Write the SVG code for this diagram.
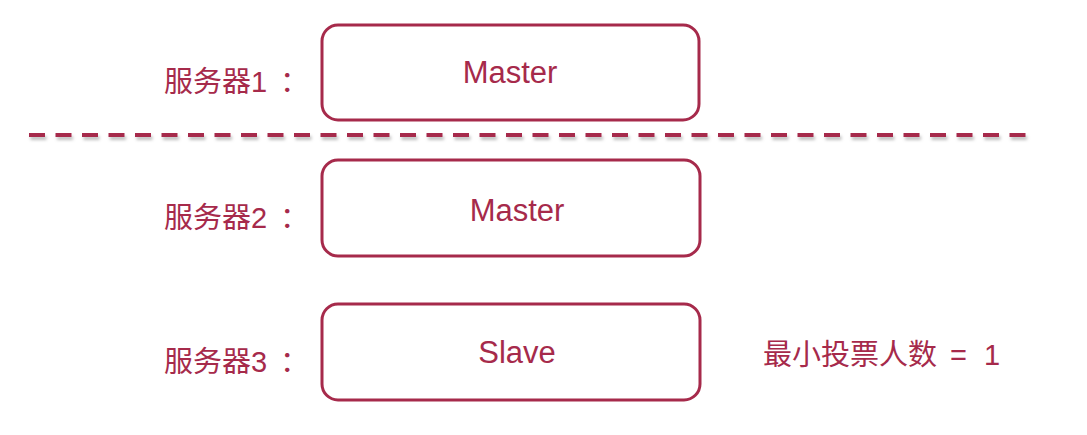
<svg xmlns="http://www.w3.org/2000/svg" width="1087" height="435" viewBox="0 0 1087 435">
<defs>
<filter id="sh" filterUnits="userSpaceOnUse" x="0" y="120" width="1087" height="30">
<feDropShadow dx="1.5" dy="3" stdDeviation="1.5" flood-color="#000" flood-opacity="0.25"/>
</filter>
</defs>
<style>
.box{fill:#fff;stroke:#a62a4b;stroke-width:3}
.lbl{font-family:"Liberation Sans","Noto Sans CJK SC",sans-serif;font-size:29px;fill:#a62a4b}
.nt{font-family:"Liberation Sans","Noto Sans CJK SC",sans-serif;font-size:31px;fill:#a62a4b;text-anchor:middle}
.div{stroke:#a62a4b;stroke-width:4;stroke-dasharray:16 10.5;fill:none}
</style>
<rect width="1087" height="435" fill="#fff"/>
<g id="connectors">
<line class="div" x1="29" y1="135" x2="1032" y2="135" filter="url(#sh)"/>
</g>
<g id="server1">
<text class="lbl" x="164" y="92">服务器1<tspan x="280">：</tspan></text>
<rect class="box" x="322" y="25" width="377" height="95" rx="16"/>
<text class="nt" x="510" y="83">Master</text>
</g>
<g id="server2">
<text class="lbl" x="164" y="228">服务器2<tspan x="280">：</tspan></text>
<rect class="box" x="322" y="160" width="378" height="96" rx="16"/>
<text class="nt" x="517" y="221">Master</text>
</g>
<g id="server3">
<text class="lbl" x="164" y="372">服务器3<tspan x="280">：</tspan></text>
<rect class="box" x="322" y="304" width="378" height="96" rx="16"/>
<text class="nt" x="517" y="363">Slave</text>
</g>
<g id="quorum">
<text class="lbl" x="763" y="365">最小投票人数<tspan x="950">=</tspan><tspan x="984">1</tspan></text>
</g>
</svg>
